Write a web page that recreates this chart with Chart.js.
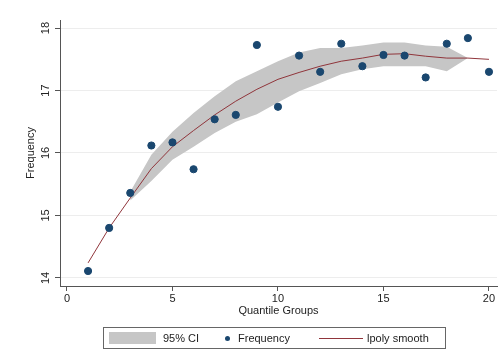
<!DOCTYPE html>
<html>
<head>
<meta charset="utf-8">
<script src="https://cdn.jsdelivr.net/npm/chart.js@4/dist/chart.umd.min.js"></script>
<style>
  body { margin: 0; background: #fff; font-family: "Liberation Sans", Arial, sans-serif; }
  #wrap { position: relative; width: 502px; height: 352px; }
  #legend { position: absolute; left: 103px; top: 327px; width: 343px; height: 22px;
            border: 1px solid #666; box-sizing: border-box; font-size: 11px; color: #222; }
  #legend .it { position: absolute; top: 0; height: 20px; line-height: 20px; }
</style>
</head>
<body>
<div id="wrap">
  <canvas id="myChart" width="502" height="352"></canvas>
  <div id="legend">
    <div class="it" style="left:5px;top:4px;width:47px;height:12px;background:#c6c6c6"></div>
    <div class="it" style="left:59px">95% CI</div>
    <div class="it" style="left:121px;top:8px;width:5px;height:5px;border-radius:50%;background:#1a476f"></div>
    <div class="it" style="left:134px">Frequency</div>
    <div class="it" style="left:215px;top:10px;width:44px;height:1px;background:#90353b"></div>
    <div class="it" style="left:263px">lpoly smooth</div>
  </div>
</div>
<script>
var groups = [1, 2, 3, 4, 5, 6, 7, 8, 9, 10, 11, 12, 13, 14, 15, 16, 17, 18, 19, 20];
var frequency = [14.11, 14.80, 15.36, 16.12, 16.17, 15.74, 16.54, 16.61, 17.73, 16.74,
                 17.56, 17.30, 17.75, 17.39, 17.57, 17.56, 17.21, 17.75, 17.84, 17.30];
var smooth = [14.24, 14.80, 15.28, 15.75, 16.10, 16.36, 16.61, 16.83, 17.02, 17.18,
              17.29, 17.39, 17.47, 17.52, 17.58, 17.59, 17.55, 17.52, 17.52, 17.50];
var ciGroups = [3, 4, 5, 6, 7, 8, 9, 10, 11, 12, 13, 14, 15, 16, 17, 18, 19];
var ciUpper = [15.38, 15.97, 16.34, 16.64, 16.91, 17.15, 17.31, 17.47, 17.61, 17.68,
               17.68, 17.72, 17.77, 17.77, 17.72, 17.70, 17.52];
var ciLower = [15.24, 15.55, 15.89, 16.10, 16.32, 16.50, 16.62, 16.81, 16.99, 17.12,
               17.26, 17.34, 17.39, 17.39, 17.39, 17.31, 17.52];
var xTicks = [0, 5, 10, 15, 20];
var yTicks = [14, 15, 16, 17, 18];

function pairs(xs, ys) {
    return xs.map((x, i) => ({ x: x, y: ys[i] }));
}

var font = { family: '"Liberation Sans", Arial, sans-serif', size: 11 };

var ctx = document.getElementById('myChart').getContext('2d');
var myChart = new Chart(ctx, {
    type: 'scatter',
    data: {
        datasets: [
            {
                label: 'Frequency',
                data: pairs(groups, frequency),
                backgroundColor: '#1a476f',
                borderColor: '#1a476f',
                pointRadius: 3.6,
                order: 0
            },
            {
                type: 'line',
                label: 'lpoly smooth',
                data: pairs(groups, smooth),
                borderColor: '#90353b',
                borderWidth: 1,
                pointRadius: 0,
                fill: false,
                order: 1
            },
            {
                type: 'line',
                label: 'ci lower',
                data: pairs(ciGroups, ciLower),
                borderWidth: 0,
                borderColor: 'rgba(0,0,0,0)',
                pointRadius: 0,
                fill: false,
                order: 3
            },
            {
                type: 'line',
                label: '95% CI',
                data: pairs(ciGroups, ciUpper),
                borderWidth: 0,
                borderColor: 'rgba(0,0,0,0)',
                backgroundColor: '#c6c6c6',
                pointRadius: 0,
                fill: '-1',
                order: 2
            }
        ]
    },
    options: {
        responsive: false,
        animation: false,
        layout: { padding: { left: 24, right: 5, top: 20, bottom: 34 } },
        plugins: {
            legend: { display: false },
            tooltip: { enabled: false }
        },
        scales: {
            x: {
                type: 'linear',
                min: -0.33,
                max: 20.38,
                afterBuildTicks: function(scale) {
                    scale.ticks = xTicks.map(v => ({ value: v }));
                },
                afterFit: function(scale) { scale.height = 32; },
                grid: { drawOnChartArea: false, tickLength: 5, tickColor: '#555' },
                border: { color: '#555' },
                ticks: { font: font, color: '#222', padding: 1, maxRotation: 0 },
                title: { display: true, text: 'Quantile Groups', font: font, color: '#222', padding: 0 }
            },
            y: {
                min: 13.87,
                max: 18.13,
                afterBuildTicks: function(scale) {
                    scale.ticks = yTicks.map(v => ({ value: v }));
                },
                afterFit: function(scale) { scale.width = 36; },
                grid: { color: '#ededed', tickLength: 5, tickColor: '#555' },
                border: { color: '#555' },
                ticks: { font: font, color: '#222', padding: 3, minRotation: 90, maxRotation: 90, crossAlign: 'center' },
                title: { display: true, text: 'Frequency', font: font, color: '#222', padding: 0 }
            }
        }
    }
});
</script>
</body>
</html>
